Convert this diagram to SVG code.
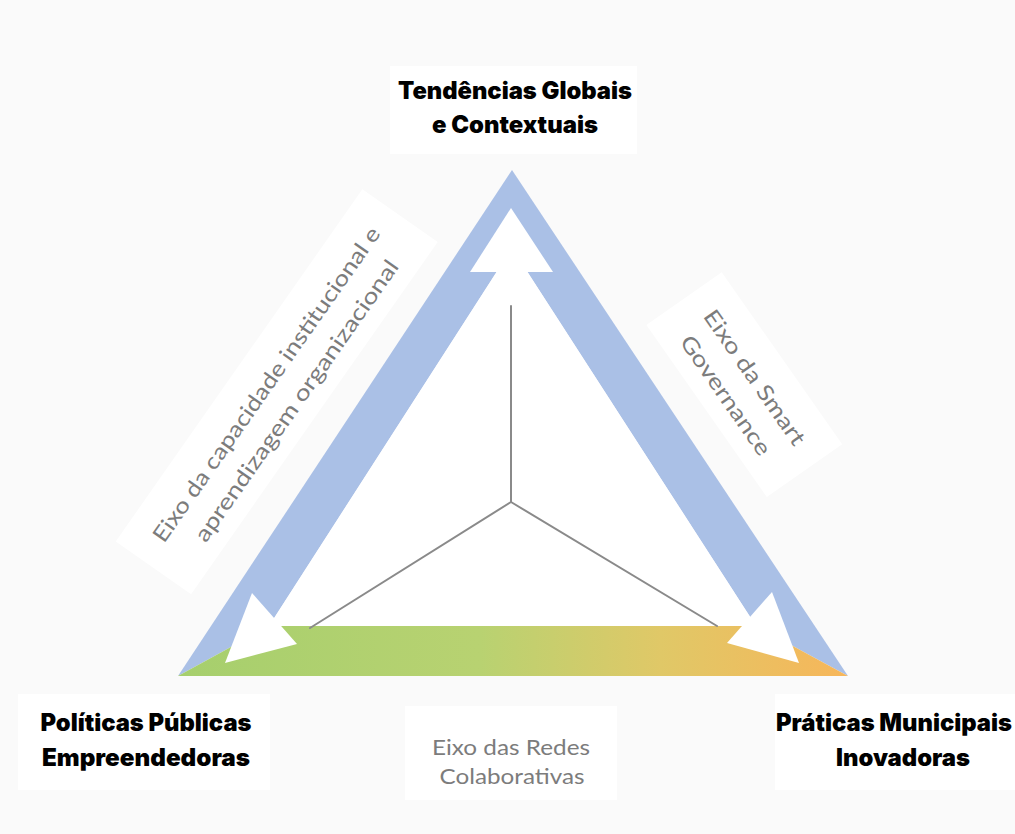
<svg xmlns="http://www.w3.org/2000/svg" width="1015" height="834" viewBox="0 0 1015 834">
  <defs>
    <linearGradient id="bottomGrad" gradientUnits="userSpaceOnUse" x1="178" y1="0" x2="848" y2="0">
      <stop offset="0" stop-color="#a6cf6d"/>
      <stop offset="0.45" stop-color="#b8d271"/>
      <stop offset="0.72" stop-color="#e0c867"/>
      <stop offset="1" stop-color="#f7b65a"/>
    </linearGradient>
    <style>
      .box { fill: #ffffff; }
      .blue { fill: #aac0e6; }
      .head { fill: #ffffff; }
      .spoke { stroke: #8a8a8a; stroke-width: 2; fill: none; stroke-linecap: round; }
      .title { font-family: Inter, "Liberation Sans", sans-serif; font-weight: 900; font-size: 24px; fill: #000000; text-anchor: middle; }
      .axis { font-family: Lato, "Open Sans", "Liberation Sans", sans-serif; font-weight: 400; font-size: 22px; fill: #7c7c7c; text-anchor: middle; }
    </style>
  </defs>
  <rect x="0" y="0" width="1015" height="834" fill="#fafafa"/>

  <!-- triangle bands -->
  <g id="bands">
    <polygon class="blue" points="512,170 178,676 269,626 512,248"/>
    <polygon class="blue" points="512,170 848,676 756,626 512,248"/>
    <polygon fill="url(#bottomGrad)" points="178,676 848,676 756,626 269,626"/>
    <polygon fill="#ffffff" points="512,248 269,626 756,626"/>
    <polygon class="head" points="511,208 470,272 553,272"/>
    <polygon class="head" points="225,663 252,593 297,644"/>
    <polygon class="head" points="799,663 772,592 727,643"/>
  </g>

  <!-- connectors -->
  <g id="connectors">
    <line class="spoke" x1="511" y1="306" x2="511" y2="502"/>
    <line class="spoke" x1="511" y1="502" x2="310" y2="628"/>
    <line class="spoke" x1="511" y1="502" x2="717" y2="626"/>
  </g>

  <g id="node-top">
    <rect class="box" x="390" y="66" width="247" height="88"/>
    <text class="title" x="515" y="99" textLength="234" lengthAdjust="spacingAndGlyphs">Tendências Globais</text>
    <text class="title" x="515" y="133" textLength="166" lengthAdjust="spacingAndGlyphs">e Contextuais</text>
  </g>

  <g id="node-left">
    <rect class="box" x="18" y="694" width="252" height="96"/>
    <text class="title" x="146" y="731" textLength="211" lengthAdjust="spacingAndGlyphs">Políticas Públicas</text>
    <text class="title" x="146" y="766" textLength="208" lengthAdjust="spacingAndGlyphs">Empreendedoras</text>
  </g>

  <g id="node-right">
    <rect class="box" x="775" y="694" width="240" height="96"/>
    <text class="title" x="894" y="731" textLength="236" lengthAdjust="spacingAndGlyphs">Práticas Municipais</text>
    <text class="title" x="903" y="766" textLength="134" lengthAdjust="spacingAndGlyphs">Inovadoras</text>
  </g>

  <g id="axis-bottom">
    <rect class="box" x="405" y="706" width="212" height="94"/>
    <text class="axis" x="511" y="755" textLength="158" lengthAdjust="spacingAndGlyphs">Eixo das Redes</text>
    <text class="axis" x="512" y="784" textLength="145" lengthAdjust="spacingAndGlyphs">Colaborativas</text>
  </g>

  <g id="axis-left" transform="translate(280,394) rotate(-55)">
    <rect class="box" x="-215" y="-50" width="430" height="92"/>
    <text class="axis" x="0" y="-9" textLength="379" lengthAdjust="spacingAndGlyphs">Eixo da capacidade institucional e</text>
    <text class="axis" x="4" y="25" textLength="338" lengthAdjust="spacingAndGlyphs">aprendizagem organizacional</text>
  </g>

  <g id="axis-right" transform="translate(741,387) rotate(55)">
    <rect class="box" x="-105" y="-50" width="210" height="92"/>
    <text class="axis" x="0" y="-9" textLength="160" lengthAdjust="spacingAndGlyphs">Eixo da Smart</text>
    <text class="axis" x="-2" y="25" textLength="141" lengthAdjust="spacingAndGlyphs">Governance</text>
  </g>
</svg>
